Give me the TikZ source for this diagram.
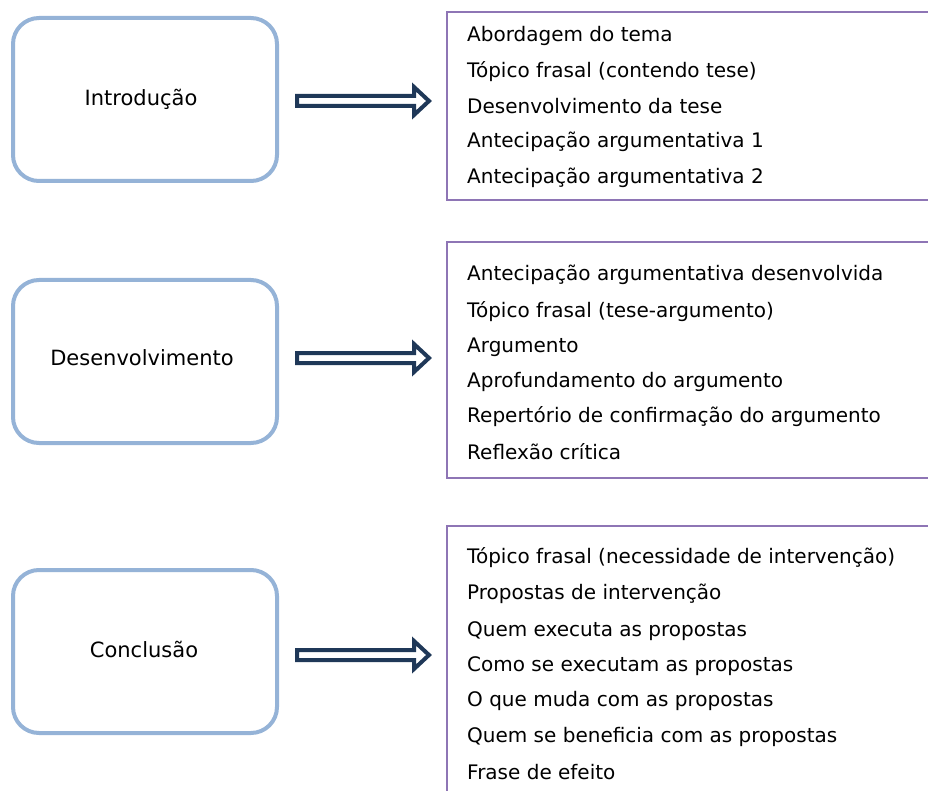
\documentclass[tikz,border=0pt]{standalone}
\usepackage{fontspec}
\setmainfont{DejaVu Sans}
\definecolor{boxblue}{HTML}{95B3D7}
\definecolor{listpurple}{HTML}{8E75B5}
\definecolor{arrownavy}{HTML}{1F3858}
\begin{document}
\begin{tikzpicture}[x=1pt,y=-1pt,
  section/.style={draw=boxblue,line width=4pt,rounded corners=26pt,fill=white,
    minimum width=264pt,minimum height=163pt,inner sep=0pt},
  label/.style={font=\fontsize{21}{25}\selectfont,inner sep=0pt},
  item/.style={anchor=west,inner sep=0pt,font=\fontsize{20}{24}\selectfont},
  blockarrow/.style={draw=arrownavy,line width=4pt,fill=white,line join=miter}]
\useasboundingbox (0,0) rectangle (928,791);

% rounded section boxes
\node[section] (intro) at (145,99.5) {};
\node[label] (introtxt) at (141,99) {Introdução};
\node[section] (desen) at (145,361.5) {};
\node[label] (desentxt) at (142,358) {Desenvolvimento};
\node[section] (concl) at (145,651.5) {};
\node[label] (concltxt) at (144,649) {Conclusão};

% list boxes
\begin{scope}
\clip (0,0) rectangle (928,791);
\draw[listpurple,line width=1.4pt] (960,12) -- (447,12) -- (447,200) -- (960,200);
\draw[listpurple,line width=1.4pt] (960,242) -- (447,242) -- (447,478) -- (960,478);
\draw[listpurple,line width=1.4pt] (960,526) -- (447,526) -- (447,820);
\end{scope}

% list items
\node[item] (a1) at (467,36) {Abordagem do tema};
\node[item] (a2) at (467,72) {Tópico frasal (contendo tese)};
\node[item] (a3) at (467,106) {Desenvolvimento da tese};
\node[item] (a4) at (467,142) {Antecipação argumentativa 1};
\node[item] (a5) at (467,178) {Antecipação argumentativa 2};

\node[item] (b1) at (467,275) {Antecipação argumentativa desenvolvida};
\node[item] (b2) at (467,312) {Tópico frasal (tese-argumento)};
\node[item] (b3) at (467,347) {Argumento};
\node[item] (b4) at (467,382) {Aprofundamento do argumento};
\node[item] (b5) at (467,417) {Repertório de confirmação do argumento};
\node[item] (b6) at (467,452) {Reflexão crítica};

\node[item] (c1) at (467,558) {Tópico frasal (necessidade de intervenção)};
\node[item] (c2) at (467,594) {Propostas de intervenção};
\node[item] (c3) at (467,631) {Quem executa as propostas};
\node[item] (c4) at (467,666) {Como se executam as propostas};
\node[item] (c5) at (467,701) {O que muda com as propostas};
\node[item] (c6) at (467,737) {Quem se beneficia com as propostas};
\node[item] (c7) at (467,772) {Frase de efeito};

% block arrows
\foreach \yc in {101,358,655}{
  \draw[blockarrow] (297,\yc-5) -- (414,\yc-5) -- (414,\yc-14) -- (429,\yc) -- (414,\yc+14) -- (414,\yc+5) -- (297,\yc+5) -- cycle;
}
\end{tikzpicture}
\end{document}
